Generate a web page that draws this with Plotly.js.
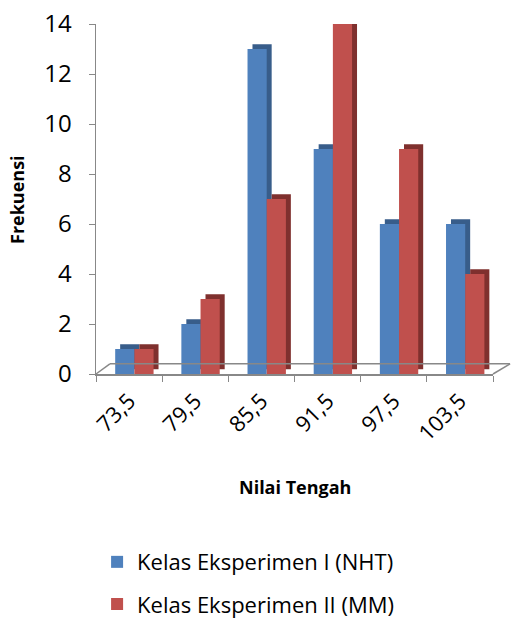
<!DOCTYPE html>
<html>
<head>
<meta charset="utf-8">
<script src="https://cdn.plot.ly/plotly-3.0.1.min.js"></script>
<style>html,body{margin:0;padding:0;background:#fff;}#chart{width:511px;height:619px;}</style>
</head>
<body>
<div id="chart"></div>
<script>
const categories = ["73,5", "79,5", "85,5", "91,5", "97,5", "103,5"];
const nht = [1, 2, 13, 9, 6, 6];
const mm = [1, 3, 7, 14, 9, 4];
const seriesNames = ["Kelas Eksperimen I (NHT)", "Kelas Eksperimen II (MM)"];
const xTitle = "Nilai Tengah";
const yTitle = "Frekuensi";

const FONT = "'Open Sans', sans-serif";
const W = 0.29, DX = 0.075, DY = 0.19;

function side(vals, off, color) {
  return {type: "bar", x: categories, y: vals, base: vals.map(() => DY),
    offset: off + DX, width: W, marker: {color: color}, showlegend: false,
    hoverinfo: "skip", cliponaxis: false};
}
function front(vals, off, color, name, legend) {
  return {type: "bar", x: categories, y: vals, offset: off, width: W,
    marker: {color: color}, name: name, legend: legend, cliponaxis: false};
}

const data = [
  side(nht, -0.21, "#385d8a"),
  front(nht, -0.21, "#4f81bd", seriesNames[0], "legend"),
  side(mm, 0.08, "#7f302e"),
  front(mm, 0.08, "#c0504d", seriesNames[1], "legend2")
];

const layout = {
  width: 511, height: 619,
  margin: {l: 96, r: 18, t: 24, b: 245, autoexpand: false},
  paper_bgcolor: "#fff", plot_bgcolor: "#fff",
  barmode: "overlay",
  font: {family: FONT, color: "#000"},
  xaxis: {
    type: "category", tickangle: -45, tickson: "boundaries", automargin: false,
    ticks: "outside", ticklen: 6, tickcolor: "#888",
    showline: true, linecolor: "#888", linewidth: 1.5, ticklabelstandoff: 4,
    tickfont: {size: 22, family: FONT}, showgrid: false
  },
  yaxis: {
    range: [0, 14], dtick: 2, ticks: "outside", ticklen: 6, tickcolor: "#888", automargin: false,
    showline: true, linecolor: "#888", linewidth: 1.5, showgrid: false, zeroline: false,
    ticklabelstandoff: 12,
    tickfont: {size: 24, family: FONT}
  },
  annotations: [
    {text: "<b>" + xTitle + "</b>", xref: "paper", yref: "paper", x: 0.5, y: -0.323,
      xanchor: "center", yanchor: "middle", showarrow: false, font: {size: 18, family: FONT}},
    {text: "<b>" + yTitle + "</b>", xref: "paper", yref: "paper", x: -0.199, y: 0.5,
      xanchor: "center", yanchor: "middle", textangle: -90, showarrow: false, font: {size: 18, family: FONT}}
  ],
  legend: {xref: "container", yref: "container", x: 0.19, xanchor: "left", y: 0.092, yanchor: "middle",
    orientation: "v", font: {size: 22, family: FONT}, bgcolor: "rgba(0,0,0,0)"},
  legend2: {xref: "container", yref: "container", x: 0.19, xanchor: "left", y: 0.024, yanchor: "middle",
    orientation: "v", font: {size: 22, family: FONT}, bgcolor: "rgba(0,0,0,0)"},
  shapes: [
    {type: "line", xref: "paper", yref: "paper", x0: 0, y0: 0, x1: 0.035, y1: 0.029, line: {color: "#888", width: 1.5}},
    {type: "line", xref: "paper", yref: "paper", x0: 0.035, y0: 0.029, x1: 1.043, y1: 0.029, line: {color: "#888", width: 1.5}},
    {type: "line", xref: "paper", yref: "paper", x0: 1.0, y0: 0, x1: 1.043, y1: 0.029, line: {color: "#888", width: 1.5}}
  ]
};

Plotly.newPlot("chart", data, layout, {displayModeBar: false, staticPlot: true});
</script>
</body>
</html>
